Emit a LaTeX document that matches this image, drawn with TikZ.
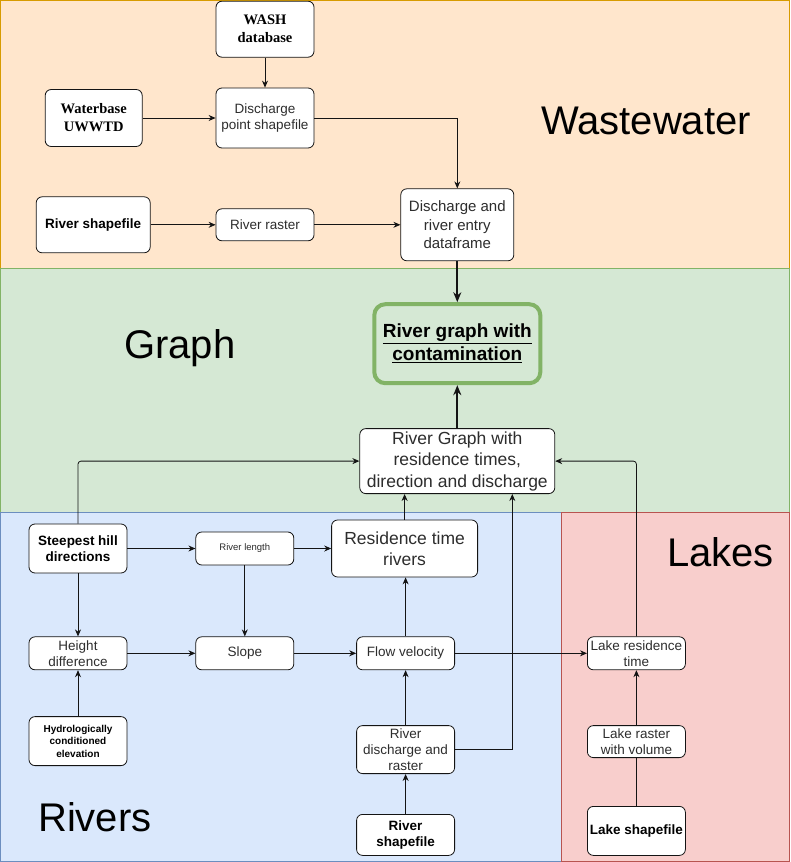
\documentclass[tikz,border=0pt]{standalone}
\usepackage{fontspec}
\setmainfont{Liberation Sans}
\newfontfamily\timesfam{Liberation Serif}
\usetikzlibrary{arrows.meta,positioning}
\definecolor{wwfill}{RGB}{255,230,204}
\definecolor{wwbdr}{RGB}{215,155,0}
\definecolor{grfill}{RGB}{213,232,212}
\definecolor{grbdr}{RGB}{130,179,102}
\definecolor{rvfill}{RGB}{218,232,252}
\definecolor{rvbdr}{RGB}{108,142,191}
\definecolor{lkfill}{RGB}{248,206,204}
\definecolor{lkbdr}{RGB}{184,84,80}
\definecolor{boxbdr}{RGB}{20,20,20}
\definecolor{bodytxt}{RGB}{45,45,45}
\definecolor{arrowclr}{RGB}{20,20,20}
\newcommand{\txtnorm}{\fontsize{13.5}{16}\selectfont}
\newcommand{\txtmid}{\fontsize{15}{18.5}\selectfont}
\newcommand{\txtbig}{\fontsize{17.5}{21.5}\selectfont}
\newcommand{\txtemph}{\fontsize{19}{23}\selectfont}
\newcommand{\txttiny}{\fontsize{9.5}{11}\selectfont}
\newcommand{\txthydro}{\fontsize{10}{12.5}\selectfont}
\newcommand{\txtser}{\timesfam\fontsize{14.5}{18}\selectfont}
\newcommand{\txtzone}{\fontsize{40}{44}\selectfont}
\tikzset{
  mblk/.style={rectangle,rounded corners=6pt,draw=boxbdr,fill=white,line width=0.8pt,
    minimum width=98pt,minimum height=33pt,inner sep=1pt,
    font=\txtnorm,align=center,text=bodytxt},
  bblk/.style={mblk,font=\txtnorm\bfseries,text=black},
  tblk/.style={mblk,font=\txtser\bfseries,text=black},
  bigblk/.style={mblk,font=\txtbig},
  emblk/.style={rectangle,rounded corners=11pt,draw=grbdr,fill=grfill,line width=4pt,
    minimum width=166pt,minimum height=79pt,
    font=\txtemph\bfseries,align=center,text=black},
  zone/.style={line width=1pt},
  zlbl/.style={font=\txtzone,text=black,anchor=base west,inner sep=0pt},
  arr/.style={-{Stealth[length=7pt,width=6pt]},line width=0.8pt,color=arrowclr},
  tarr/.style={-{Stealth[length=10pt,width=8pt]},line width=1.8pt,color=arrowclr},
  ln/.style={line width=0.8pt,color=arrowclr},
}
\begin{document}
\begin{tikzpicture}[x=1pt,y=1pt]
  \useasboundingbox (0,0) rectangle (790,-862);
  \draw[zone,fill=wwfill,draw=wwbdr] (0.5,-0.5) rectangle (789,-268);
  \draw[zone,fill=grfill,draw=grbdr] (0.5,-268) rectangle (789,-512);
  \draw[zone,fill=rvfill,draw=rvbdr] (0.5,-512) rectangle (561,-861.5);
  \draw[zone,fill=lkfill,draw=lkbdr] (561,-512) rectangle (789,-861.5);

  \node[zlbl] (wwlbl) at (541,-134) {Wastewater};
  \node[zlbl] (grlbl) at (124,-358) {Graph};
  \node[zlbl] (lklbl) at (667,-566) {Lakes};
  \node[zlbl] (rvlbl) at (38,-831) {Rivers};

  \node[mblk,minimum height=60pt] (disc) at (265,-118) {Discharge\\point shapefile};
  \node[tblk,minimum height=56pt,above=30pt of disc] (wash) {WASH\\database};
  \node[tblk,minimum width=97pt,minimum height=57pt,left=73pt of disc] (uwwtd) {Waterbase\\UWWTD};
  \node[mblk,minimum height=32pt,below=60pt of disc] (rrast) {River raster};
  \node[bblk,minimum width=114pt,minimum height=56pt,left=65pt of rrast] (rshp) {River shapefile};
  \node[mblk,font=\txtmid,minimum width=113pt,minimum height=72pt,right=86pt of rrast] (dframe) {Discharge and\\river entry\\dataframe};
  \node[emblk,below=41pt of dframe] (contam) {\underline{River graph with}\\\underline{contamination}};
  \node[bigblk,minimum width=195pt,minimum height=65pt,below=43pt of contam] (rgraph) {River Graph with\\residence times,\\direction and discharge};

  \node[bblk,minimum height=49pt] (steep) at (78,-548.5) {Steepest hill\\directions};
  \node[mblk,font=\txttiny,right=68pt of steep] (rlen) {River length};
  \node[bigblk,minimum width=146pt,minimum height=57pt,right=37pt of rlen] (restime) {Residence time\\rivers};
  \node[mblk,below=63pt of steep] (hdiff) {Height\\difference};
  \node[mblk,right=68pt of hdiff] (slope) {Slope};
  \node[mblk,right=62pt of slope] (flowv) {Flow velocity};
  \node[mblk,right=132pt of flowv] (lakeres) {Lake residence\\time};
  \node[bblk,font=\txthydro\bfseries,minimum height=49pt,below=46pt of hdiff] (hydro) {Hydrologically\\conditioned\\elevation};
  \node[mblk,minimum height=48pt,below=55pt of flowv] (rdis) {River\\discharge and\\raster};
  \node[bblk,minimum height=41pt,below=40pt of rdis] (rshpb) {River\\shapefile};
  \node[mblk,minimum height=32pt,below=55pt of lakeres] (lkrast) {Lake raster\\with volume};
  \node[bblk,minimum height=49pt,below=48pt of lkrast] (lkshp) {Lake shapefile};

  \draw[arr] (wash) -- (disc);
  \draw[arr] (uwwtd) -- (disc);
  \draw[arr] (disc.east) -| (dframe.north);
  \draw[arr] (rshp) -- (rrast);
  \draw[arr] (rrast) -- (dframe);
  \draw[tarr] (dframe) -- (contam);
  \draw[tarr] (rgraph) -- (contam);

  \draw[arr,rounded corners=3pt] (steep.north) |- (rgraph.west);
  \draw[arr] (steep) -- (rlen);
  \draw[arr] (rlen) -- (restime);
  \draw[arr] (steep) -- (hdiff);
  \draw[arr] (rlen) -- (slope);
  \draw[arr] (hydro) -- (hdiff);
  \draw[arr] (hdiff) -- (slope);
  \draw[arr] (slope) -- (flowv);
  \draw[arr] (flowv) -- (flowv |- restime.south);
  \draw[arr] (restime) -- (restime |- rgraph.south);
  \draw[arr] (flowv) -- (lakeres);
  \draw[arr] (rshpb) -- (rdis);
  \draw[arr] (rdis) -- (flowv);
  \draw[arr] (rdis.east) -| ([xshift=55pt]rgraph.south);
  \draw[ln] (lkshp) -- (lkrast);
  \draw[arr] (lkrast) -- (lakeres);
  \draw[arr,rounded corners=3pt] (lakeres.north) |- (rgraph.east);
\end{tikzpicture}
\end{document}
